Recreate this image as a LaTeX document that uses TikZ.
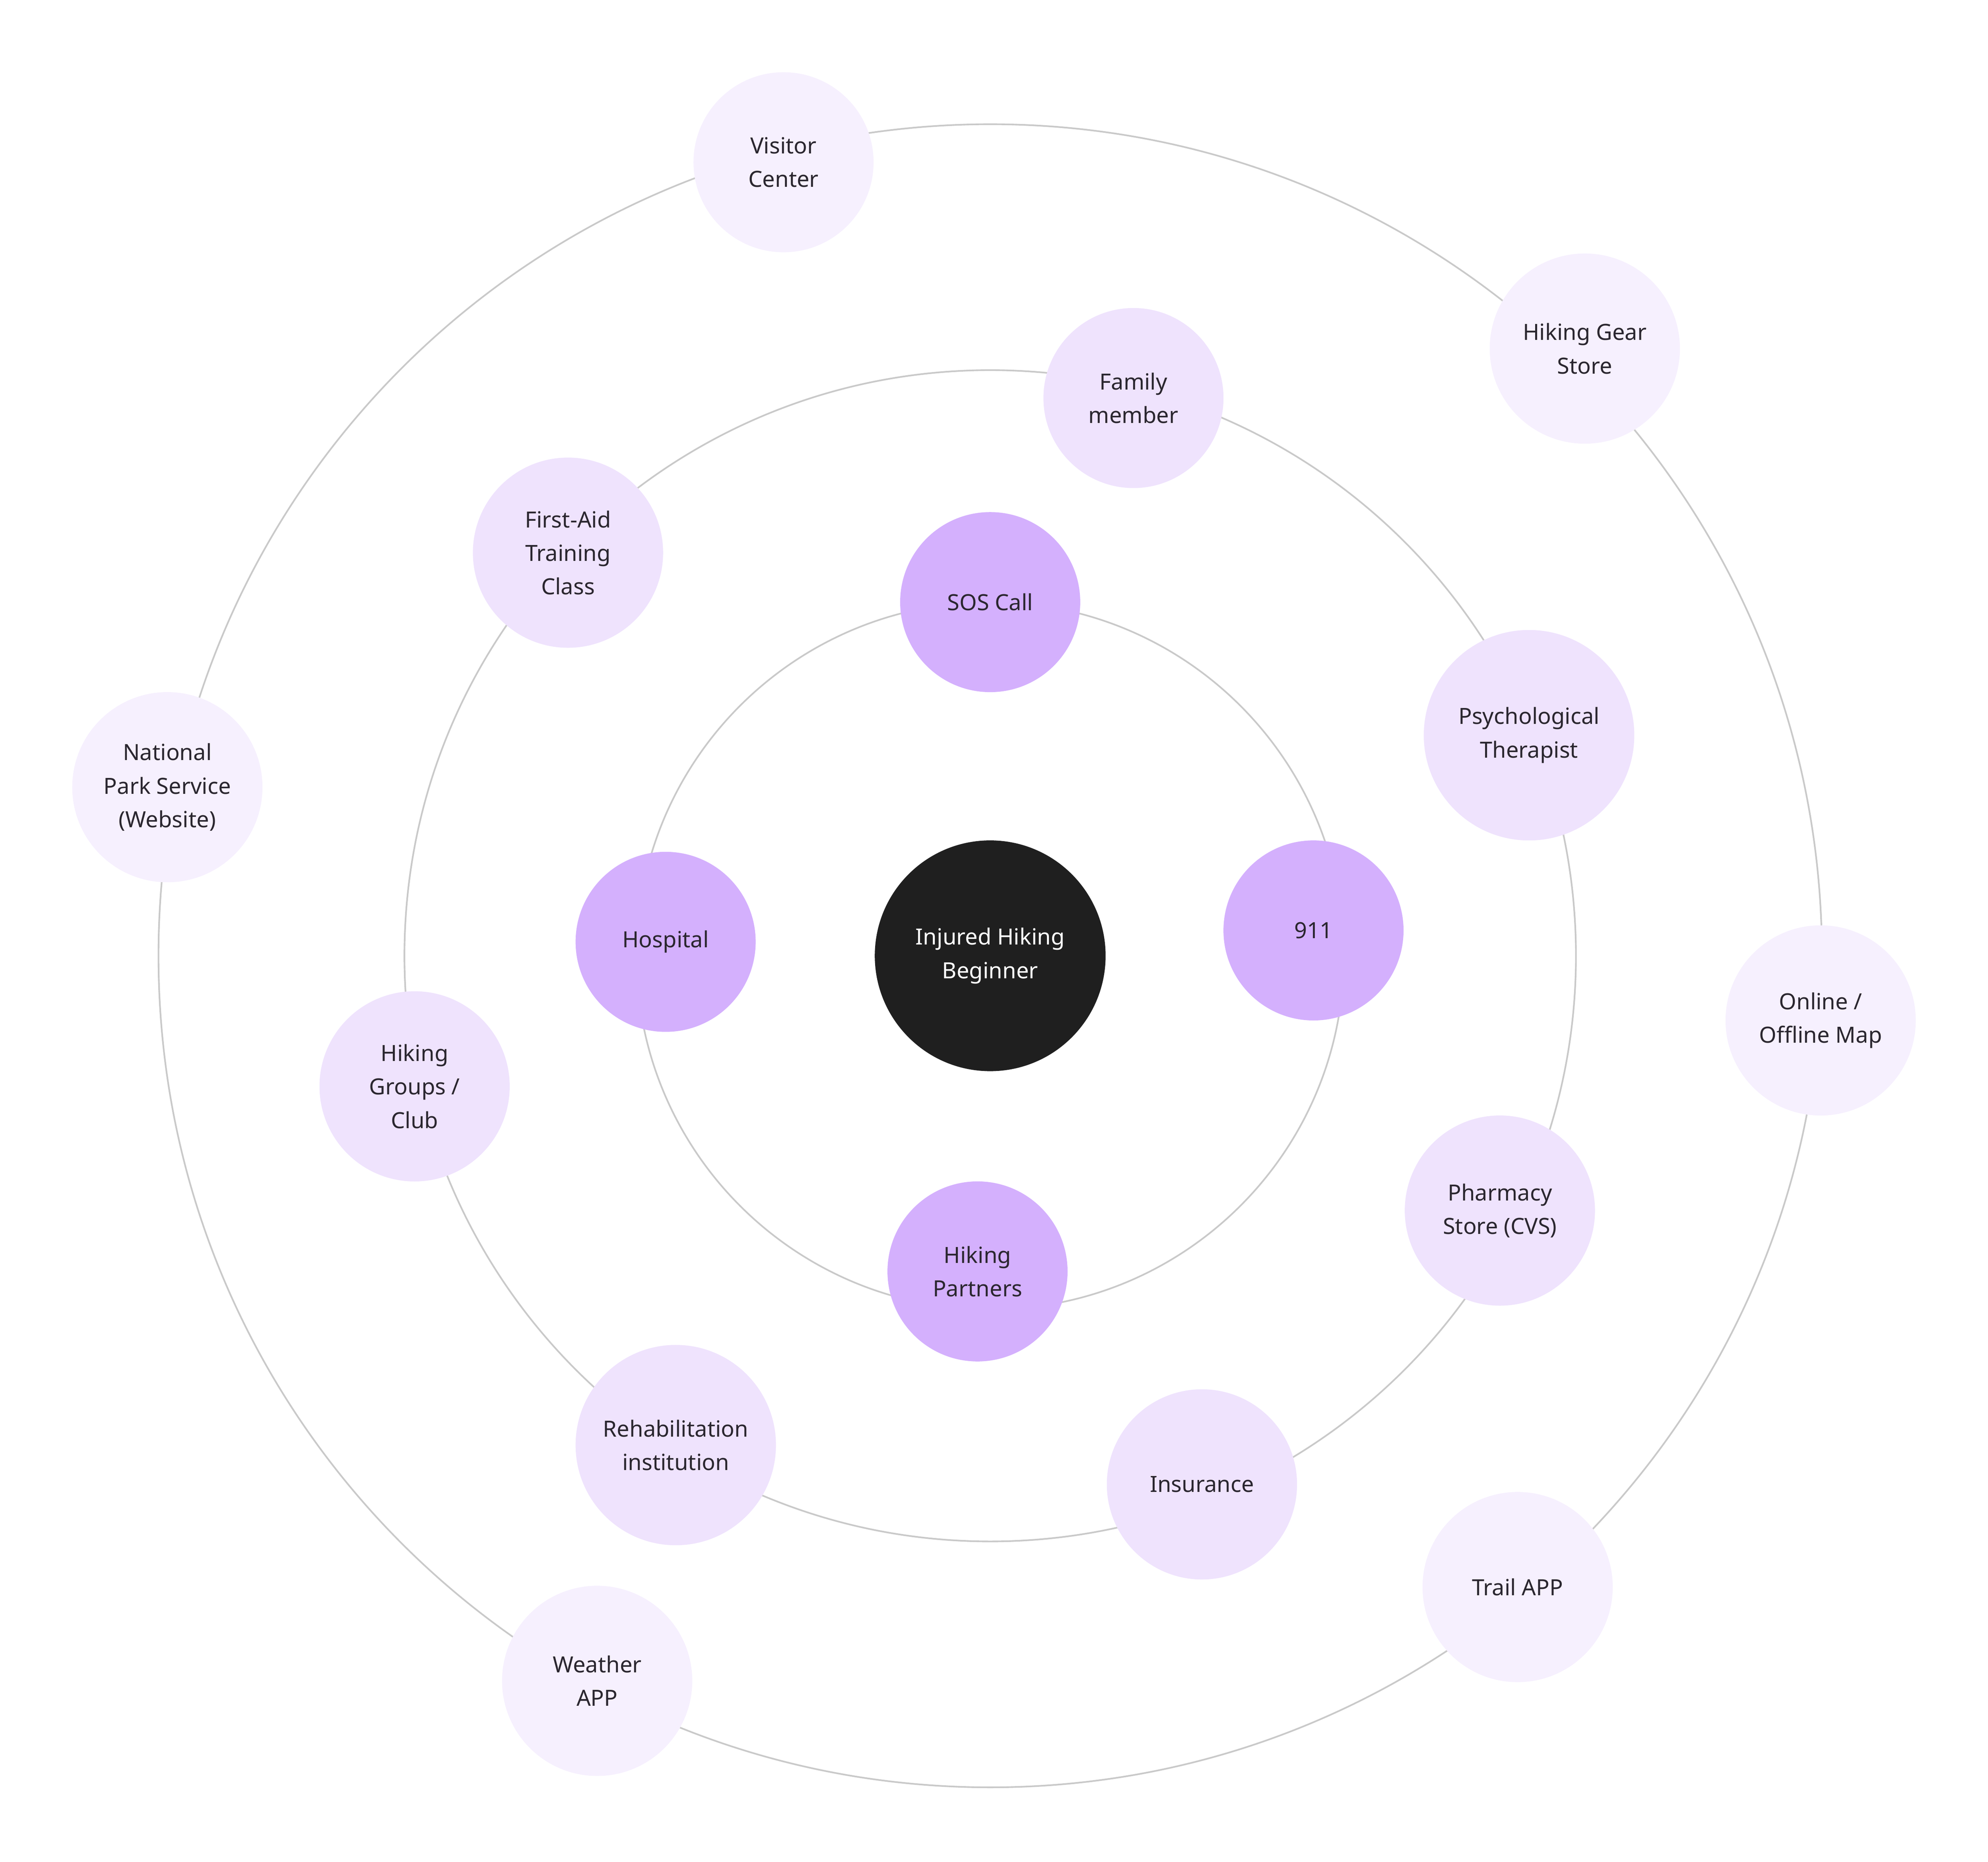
\documentclass[tikz,border=0pt]{standalone}
\usepackage{fontspec}
\setmainfont{Noto Sans}
\usepackage{tikz}
\definecolor{ccccgg}{rgb}{0.79,0.79,0.79}
\definecolor{ddbbff}{rgb}{0.831,0.690,0.992}
\definecolor{eeddff}{rgb}{0.937,0.890,0.992}
\definecolor{ffeeff}{rgb}{0.965,0.941,0.996}
\definecolor{qqqqqq}{rgb}{0.122,0.122,0.122}
\definecolor{ttsstt}{rgb}{0.165,0.150,0.185}

\begin{document}
\begin{tikzpicture}[line cap=round,line join=round,x=0.025cm,y=-0.025cm,
  ring/.style={draw=ccccgg,line width=0.92pt},
  bubble/.style={circle,inner sep=0pt,align=center,text=ttsstt,font=\fontsize{12.5}{18.8}\selectfont},
  core/.style={bubble,fill=qqqqqq,text=white,minimum size=4.55cm},
  near/.style={bubble,fill=ddbbff,minimum size=3.55cm},
  mid/.style={bubble,fill=eeddff,minimum size=3.75cm},
  far/.style={bubble,fill=ffeeff,minimum size=3.75cm}]
\useasboundingbox (0,0) rectangle (1568,1468.6);
\coordinate (hub) at (781,754);
\draw [ring] (hub) circle [radius=279];
\draw [ring] (hub) circle [radius=462];
\draw [ring] (hub) circle [radius=656];
\node[core] (beginner) at (hub) {Injured Hiking\\Beginner};
% inner ring
\node[near] (sos) at (781,475) {SOS Call};
\node[near] (nineoneone) at (1036,734) {911};
\node[near] (hospital) at (525,743) {Hospital};
\node[near] (partners) at (771,1003) {Hiking\\Partners};
% middle ring
\node[mid,minimum size=3.55cm] (family) at (894,314) {Family\\member};
\node[mid,minimum size=4.15cm] (therapist) at (1206,580) {Psychological\\Therapist};
\node[mid] (pharmacy) at (1183,955) {Pharmacy\\Store (CVS)};
\node[mid] (insurance) at (948,1171) {Insurance};
\node[mid,minimum size=3.95cm] (rehab) at (533,1140) {Rehabilitation\\institution};
\node[mid] (groups) at (327,857) {Hiking\\Groups /\\Club};
\node[mid] (firstaid) at (448,436) {First-Aid\\Training\\Class};
% outer ring
\node[far,minimum size=3.55cm] (visitor) at (618,128) {Visitor\\Center};
\node[far] (gear) at (1250,275) {Hiking Gear\\Store};
\node[far] (map) at (1436,805) {Online /\\Offline Map};
\node[far] (trail) at (1197,1252) {Trail APP};
\node[far] (weather) at (471,1326) {Weather\\APP};
\node[far] (park) at (132,621) {National\\Park Service\\(Website)};
\end{tikzpicture}
\end{document}
